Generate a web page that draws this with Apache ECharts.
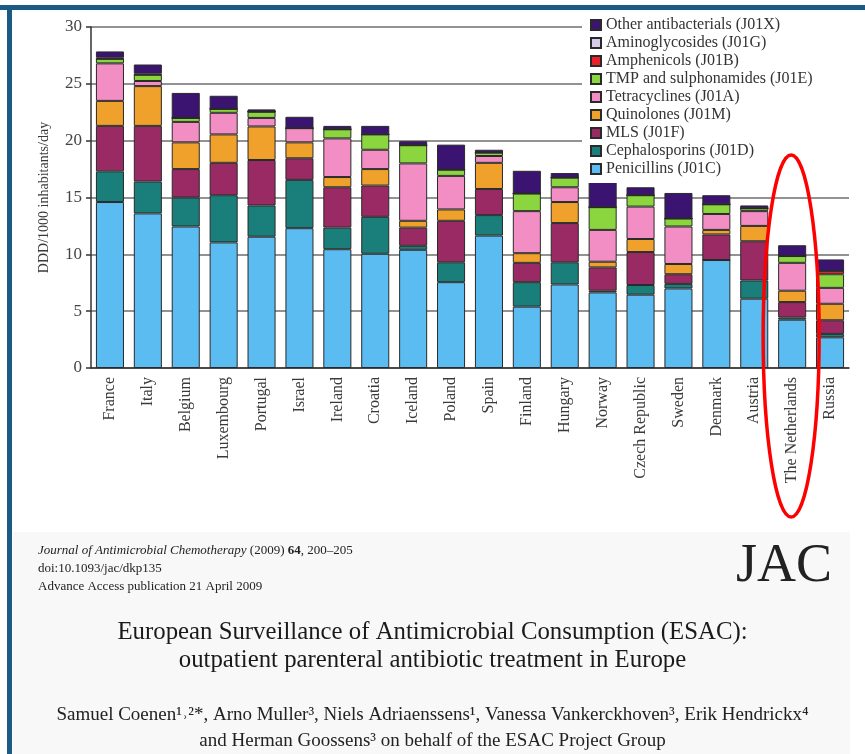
<!DOCTYPE html>
<html>
<head>
<meta charset="utf-8">
<script src="https://cdn.jsdelivr.net/npm/echarts@6/dist/echarts.min.js"></script>
<style>
  html, body { margin: 0; padding: 0; background: #ffffff; }
  #chart { width: 865px; height: 754px; }
</style>
</head>
<body>
<div id="chart"></div>
<script>
// countries, in the order of the figure
var countries = ['France','Italy','Belgium','Luxembourg','Portugal','Israel','Ireland','Croatia','Iceland','Poland',
                 'Spain','Finland','Hungary','Norway','Czech Republic','Sweden','Denmark','Austria','The Netherlands','Russia'];

// DDD/1000 inhabitants/day per class
var penicillins    = [14.6,13.6,12.45,11.05,11.55,12.3,10.45,10.05,10.4,7.55,11.65,5.4,7.35,6.65,6.45,7.0,9.5,6.1,4.25,2.7];
var cephalosporins = [2.7,2.8,2.55,4.15,2.75,4.25,1.9,3.25,0.35,1.75,1.8,2.15,1.95,0.15,0.85,0.4,0,1.6,0.2,0.3];
var mls            = [4.0,4.9,2.5,2.85,4.0,1.9,3.55,2.75,1.6,3.65,2.3,1.7,3.45,2.05,2.9,0.85,2.25,3.45,1.35,1.2];
var quinolones     = [2.2,3.5,2.35,2.5,2.95,1.4,0.9,1.45,0.6,1.0,2.3,0.85,1.85,0.5,1.15,0.9,0.4,1.35,1.0,1.45];
var tetracyclines  = [3.3,0.45,1.8,1.9,0.75,1.25,3.4,1.7,5.05,2.95,0.6,3.7,1.3,2.8,2.85,3.3,1.4,1.3,2.45,1.4];
var tmpSulpha      = [0.4,0.55,0.35,0.35,0.55,0,0.8,1.35,1.6,0.55,0.3,1.55,0.85,2.0,1.0,0.7,0.85,0.25,0.6,1.2];
var amphenicols    = [0,0,0,0,0,0,0,0,0,0,0,0,0,0,0,0,0,0,0,0.3];
var aminoglycosides= [0.1,0.1,0,0,0,0,0,0,0,0,0,0,0,0,0,0,0,0,0,0];
var otherAb        = [0.55,0.8,2.2,1.15,0.2,1.0,0.3,0.75,0.35,2.2,0.25,2.0,0.4,2.3,0.7,2.25,0.8,0.25,0.95,1.0];

var yTicks = [0,5,10,15,20,25,30];

// stacking order, bottom to top
var classes = [
  {name:'Penicillins (J01C)',            data:penicillins,     color:'#5bbcf2'},
  {name:'Cephalosporins (J01D)',         data:cephalosporins,  color:'#1a7f7a'},
  {name:'MLS (J01F)',                    data:mls,             color:'#992a63'},
  {name:'Quinolones (J01M)',             data:quinolones,      color:'#f0a12c'},
  {name:'Tetracyclines (J01A)',          data:tetracyclines,   color:'#f38ec4'},
  {name:'TMP and sulphonamides (J01E)',  data:tmpSulpha,       color:'#8bd63e'},
  {name:'Amphenicols (J01B)',            data:amphenicols,     color:'#e8212b'},
  {name:'Aminoglycosides (J01G)',        data:aminoglycosides, color:'#d8cbe8'},
  {name:'Other antibacterials (J01X)',   data:otherAb,         color:'#3a1470'}
];

var serif = '"Liberation Serif", "DejaVu Serif", serif';
var chart = echarts.init(document.getElementById('chart'));

var series = classes.map(function(c){
  return {
    name: c.name,
    type: 'bar',
    stack: 'all',
    barWidth: '74%',
    data: c.data,
    itemStyle: { color: c.color, borderColor: '#2a2a2a', borderWidth: 1 }
  };
});

function centredText(str, top, size, color){
  return { type: 'text', left: 'center', top: top, z: 100, silent: true,
           style: { text: str, fontFamily: serif, fontSize: size, fill: color } };
}

var option = {
  backgroundColor: '#ffffff',
  animation: false,
  grid: { left: 91, right: 16, top: 27, bottom: 386 },
  legend: {
    orient: 'vertical',
    left: 582,
    top: 12,
    padding: [5, 60, 6, 8],
    backgroundColor: '#ffffff',
    itemWidth: 10,
    itemHeight: 10,
    itemGap: 2,
    icon: 'rect',
    data: classes.map(function(c){ return c.name; }).reverse(),
    textStyle: { fontFamily: serif, fontSize: 16, color: '#333', lineHeight: 16 }
  },
  xAxis: {
    type: 'category',
    data: countries,
    axisLine: { lineStyle: { color: '#333', width: 1.5 } },
    axisTick: { length: 6, lineStyle: { color: '#333', width: 1.5 } },
    axisLabel: { rotate: 90, interval: 0, margin: 9, fontFamily: serif, fontSize: 16, color: '#3a3a3a' }
  },
  yAxis: {
    type: 'value',
    min: yTicks[0],
    max: yTicks[yTicks.length - 1],
    interval: 5,
    name: 'DDD/1000 inhabitants/day',
    nameLocation: 'middle',
    nameGap: 40,
    nameTextStyle: { fontFamily: serif, fontSize: 14, color: '#3a3a3a' },
    axisLine: { show: true, lineStyle: { color: '#333', width: 1.5 } },
    axisTick: { show: true, length: 5, lineStyle: { color: '#333', width: 1.5 } },
    axisLabel: { margin: 9, fontFamily: serif, fontSize: 17, color: '#444' },
    splitLine: { lineStyle: { color: '#6e6e6e', width: 1.5 } }
  },
  series: series,
  graphic: {
    elements: [
      // page frame and shaded article area
      { type: 'rect', left: 13, top: 532, z: -10, silent: true,
        shape: { width: 837, height: 222 }, style: { fill: '#f8f8f8' } },
      { type: 'rect', left: 0, top: 5, z: 100, silent: true,
        shape: { width: 865, height: 5 }, style: { fill: '#1a5a83' } },
      { type: 'rect', left: 7, top: 5, z: 100, silent: true,
        shape: { width: 5, height: 749 }, style: { fill: '#1a5a83' } },
      // article header
      { type: 'text', left: 38, top: 544, z: 100, silent: true,
        style: {
          text: '{i|Journal of Antimicrobial Chemotherapy} (2009) {b|64}, 200–205',
          fontFamily: serif, fontSize: 13, fill: '#222',
          rich: { i: { fontStyle: 'italic', fontFamily: serif, fontSize: 13, fill: '#222' },
                  b: { fontWeight: 'bold', fontFamily: serif, fontSize: 13, fill: '#222' } }
        } },
      { type: 'text', left: 38, top: 562, z: 100, silent: true,
        style: { text: 'doi:10.1093/jac/dkp135', fontFamily: serif, fontSize: 13, fill: '#222' } },
      { type: 'text', left: 38, top: 580, z: 100, silent: true,
        style: { text: 'Advance Access publication 21 April 2009', fontFamily: serif, fontSize: 13, fill: '#222' } },
      { type: 'text', left: 736, top: 540, z: 100, silent: true,
        style: { text: 'JAC', fontFamily: serif, fontSize: 54, fill: '#222' } },
      centredText('European Surveillance of Antimicrobial Consumption (ESAC):', 620, 24.8, '#1a1a1a'),
      centredText('outpatient parenteral antibiotic treatment in Europe', 648, 24.8, '#1a1a1a'),
      centredText('Samuel Coenen¹˒²*, Arno Muller³, Niels Adriaenssens¹, Vanessa Vankerckhoven³, Erik Hendrickx⁴', 706, 19, '#222'),
      centredText('and Herman Goossens³ on behalf of the ESAC Project Group', 732, 19, '#222')
    ]
  }
};

chart.setOption(option);

// red highlight around The Netherlands, placed from the category axis
var nlX = chart.convertToPixel({ xAxisIndex: 0 }, 'The Netherlands');
chart.setOption({
  graphic: {
    elements: [
      { type: 'ellipse', id: 'nlRing', z: 120, silent: true,
        shape: { cx: nlX - 1, cy: 336, rx: 28, ry: 181 },
        style: { fill: 'none', stroke: '#ff0000', lineWidth: 3.5 } }
    ]
  }
});
</script>
</body>
</html>
